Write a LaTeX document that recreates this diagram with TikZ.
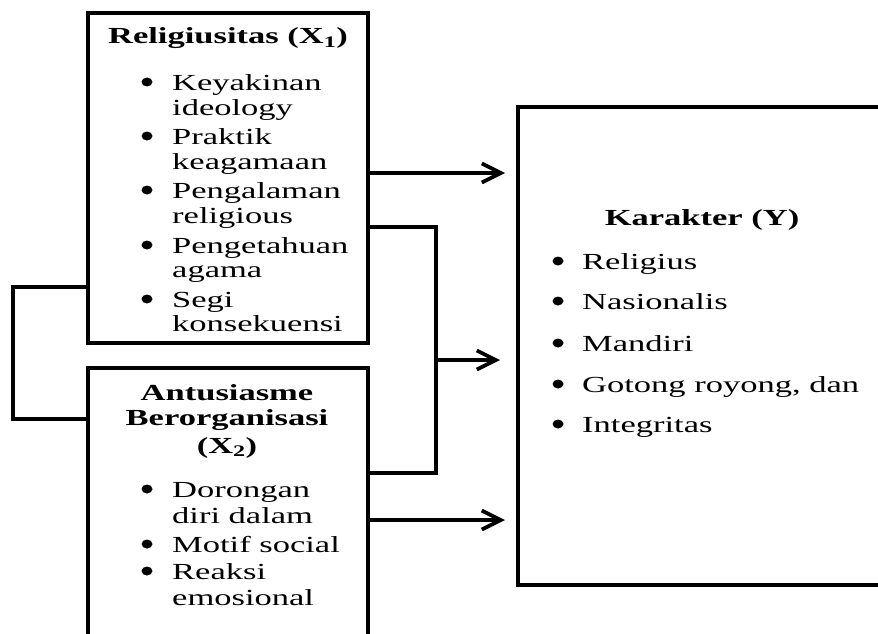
\documentclass[tikz,border=0pt]{standalone}
\usepackage{fontspec}
\setmainfont{Liberation Serif}[FakeStretch=1.5]
\usetikzlibrary{arrows.meta,shapes.geometric}
\tikzset{
  box/.style={draw, line width=3.8pt, rectangle, inner sep=0pt},
  conn/.style={draw, line width=3.8pt, line join=miter},
  arr/.style={conn, -{Straight Barb[length=19pt,width=19pt]}},
  txt/.style={anchor=base west, inner sep=0pt, font=\fontsize{23}{25}\selectfont},
  ttl/.style={anchor=base, inner sep=0pt, font=\fontsize{23}{25}\selectfont\bfseries},
  bul/.style={ellipse, fill=black, inner sep=0pt, minimum width=11pt, minimum height=9pt}
}
\begin{document}
\begin{tikzpicture}[x=1pt,y=-1pt]
\useasboundingbox (0,0) rectangle (878,634);
\clip (0,0) rectangle (878,634);
% boxes
\node[box, minimum width=280pt, minimum height=330pt] (x1) at (228,178) {};
\node[box, minimum width=280pt, minimum height=320pt] (x2) at (228,528) {};
\node[inner sep=0pt, minimum width=360pt, minimum height=478pt] (y) at (698,346) {};
\coordinate (edge) at (882,0);
\draw[conn] (y.north west -| edge) -- (y.north west) -- (y.south west) -- (y.south west -| edge);
% X1 text
\node[ttl] (x1t) at (228,44) {Religiusitas (X\textsubscript{1})};
\node[bul] (b11) at (147,82) {};
\node[txt] (a11) at (172,90) {Keyakinan};
\node[txt] (a12) at (172,115) {ideology};
\node[bul] (b12) at (147,136) {};
\node[txt] (a21) at (172,144) {Praktik};
\node[txt] (a22) at (172,169) {keagamaan};
\node[bul] (b13) at (147,190) {};
\node[txt] (a31) at (172,198) {Pengalaman};
\node[txt] (a32) at (172,223) {religious};
\node[bul] (b14) at (147,245) {};
\node[txt] (a41) at (172,253) {Pengetahuan};
\node[txt] (a42) at (172,277) {agama};
\node[bul] (b15) at (147,299) {};
\node[txt] (a51) at (172,307) {Segi};
\node[txt] (a52) at (172,331) {konsekuensi};
% X2 text
\node[ttl] (x2t1) at (227,400) {Antusiasme};
\node[ttl] (x2t2) at (227,425) {Berorganisasi};
\node[ttl] (x2t3) at (227,453) {(X\textsubscript{2})};
\node[bul] (b21) at (147,489) {};
\node[txt] (c11) at (172,497) {Dorongan};
\node[txt] (c12) at (172,523) {diri dalam};
\node[bul] (b22) at (147,544) {};
\node[txt] (c21) at (172,552) {Motif social};
\node[bul] (b23) at (147,571) {};
\node[txt] (c31) at (172,579) {Reaksi};
\node[txt] (c32) at (172,605) {emosional};
% Y text
\node[ttl] (yt) at (702,225) {Karakter (Y)};
\node[bul] (by1) at (558,261) {};
\node[txt] (d1) at (582,269) {Religius};
\node[bul] (by2) at (558,301) {};
\node[txt] (d2) at (582,309) {Nasionalis};
\node[bul] (by3) at (558,343) {};
\node[txt] (d3) at (582,351) {Mandiri};
\node[bul] (by4) at (558,384) {};
\node[txt] (d4) at (582,392) {Gotong royong, dan};
\node[bul] (by5) at (558,424) {};
\node[txt] (d5) at (582,432) {Integritas};
% connectors
\coordinate (lt) at (13,287);
\coordinate (lb) at (13,419);
\draw[conn] (x1.west |- lt) -- (lt) -- (lb) -- (x2.west |- lb);
\coordinate (bt) at (436,227);
\coordinate (bb) at (436,473);
\coordinate (bm) at (436,360);
\coordinate (tm) at (500,360);
\draw[conn] (x1.east |- bt) -- (bt) -- (bb) -- (x2.east |- bb);
\draw[arr] (bm) -- (tm);
\coordinate (tt) at (505,173);
\draw[arr] (x1.east |- tt) -- (tt);
\coordinate (tb) at (505,520);
\draw[arr] (x2.east |- tb) -- (tb);
\end{tikzpicture}
\end{document}
